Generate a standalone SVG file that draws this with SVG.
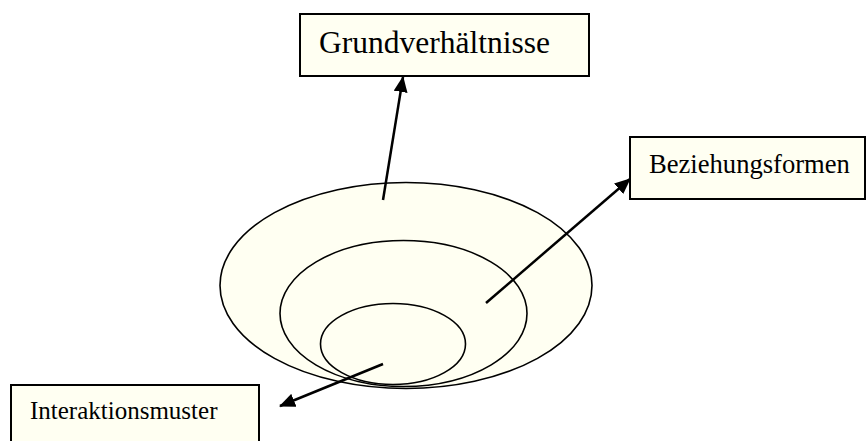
<svg xmlns="http://www.w3.org/2000/svg" width="867" height="441" viewBox="0 0 867 441">
<defs>
<style>
.box{fill:#FFFFF2;stroke:#000;stroke-width:2}
.ell{fill:#FFFFF2;stroke:#000;stroke-width:1.6}
.lbl{font-family:"Liberation Serif","Times New Roman",serif;fill:#000}
.conn{stroke:#000;stroke-width:2.5;fill:none;marker-end:url(#ah)}
</style>
<marker id="ah" markerWidth="16" markerHeight="14" refX="15" refY="7" orient="auto" markerUnits="userSpaceOnUse">
<path d="M0,0 L16,7 L0,14 Z" fill="#000"/>
</marker>
</defs>
<rect width="867" height="441" fill="#fff"/>
<g id="circles">
<ellipse class="ell" cx="406" cy="285.5" rx="186" ry="103"/>
<ellipse class="ell" cx="403.5" cy="313.5" rx="123.5" ry="73"/>
<ellipse class="ell" cx="393" cy="344" rx="72.5" ry="40.5"/>
</g>
<g id="grundverhaeltnisse">
<rect class="box" x="300" y="14" width="289" height="62"/>
<text class="lbl" x="319" y="53" font-size="31.5">Grundverhältnisse</text>
</g>
<g id="beziehungsformen">
<rect class="box" x="630" y="137" width="235" height="62"/>
<text class="lbl" x="649" y="172.5" font-size="26.6">Beziehungsformen</text>
</g>
<g id="interaktionsmuster">
<rect class="box" x="11" y="385" width="248" height="70"/>
<text class="lbl" x="30" y="419" font-size="25">Interaktionsmuster</text>
</g>
<g id="connectors">
<line class="conn" x1="383" y1="200" x2="403" y2="77"/>
<line class="conn" x1="486" y1="303" x2="630" y2="179"/>
<line class="conn" x1="383" y1="364" x2="280" y2="406"/>
</g>
</svg>
